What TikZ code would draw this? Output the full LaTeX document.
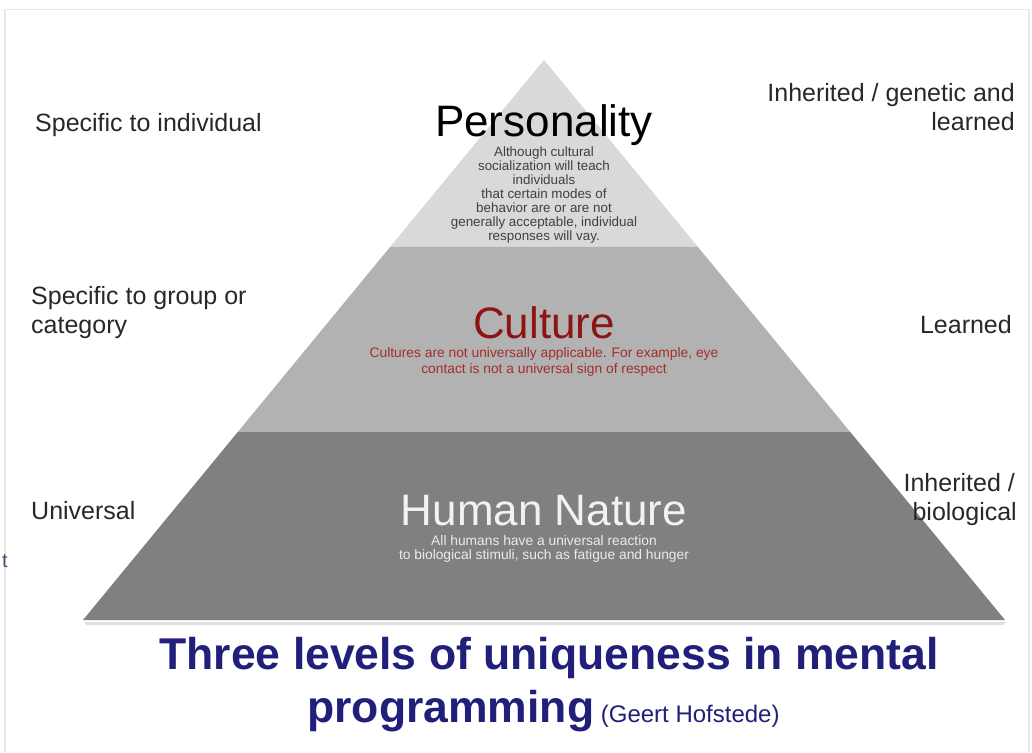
\documentclass[tikz,border=0pt]{standalone}
\usepackage{fontspec}
\setmainfont{Liberation Sans}
\usetikzlibrary{calc}
\definecolor{layerA}{RGB}{217,217,217}
\definecolor{layerB}{RGB}{178,178,178}
\definecolor{layerC}{RGB}{128,128,128}
\definecolor{titleblue}{RGB}{32,32,122}
\definecolor{culturered}{RGB}{140,20,20}
\definecolor{descred}{RGB}{165,45,45}
\definecolor{framegray}{RGB}{232,232,232}
\definecolor{sidegray}{RGB}{40,40,40}
\tikzset{
  side/.style={inner sep=0pt, text=sidegray, font=\fontsize{25}{29.5}\selectfont},
  big/.style={inner sep=0pt, anchor=base, font=\fontsize{44}{50}\selectfont},
  desc/.style={inner sep=0pt, anchor=north, align=center},
}
\begin{document}
\begin{tikzpicture}[x=1pt,y=-1pt]
\useasboundingbox (0,0) rectangle (1032,752);
\fill[white] (0,0) rectangle (1032,752);
\draw[framegray, line width=1.5pt] (5,752) -- (5,9.5) -- (1029,9.5) -- (1029,752);
% pyramid
\coordinate (apex) at (544,60);
\coordinate (bl) at (83,620);
\coordinate (br) at (1005,620);
\coordinate (l1) at ($(apex)!0.3339!(bl)$);
\coordinate (r1) at ($(apex)!0.3339!(br)$);
\coordinate (l2) at ($(apex)!0.6643!(bl)$);
\coordinate (r2) at ($(apex)!0.6643!(br)$);
\fill[black!12] ($(bl)+(1,2)$) -- ($(br)+(1,2)$) -- ($(br)+(-2,5)$) -- ($(bl)+(4,5)$) -- cycle;
\fill[layerA] (apex) -- (r1) -- (l1) -- cycle;
\fill[layerB] (l1) -- (r1) -- (r2) -- (l2) -- cycle;
\fill[layerC] (l2) -- (r2) -- (br) -- (bl) -- cycle;
% layer titles
\node[big] (pers) at (544,136) {Personality};
\node[big, text=culturered] (cult) at (544,338) {Culture};
\node[big, text=white!95!black] (hn) at (544,525) {Human Nature};
% descriptions
\node[desc, text=black!75, font=\fontsize{13.4}{14}\selectfont] (persd) at (544,146.5)
  {Although cultural\\socialization will teach\\individuals\\that certain modes of\\behavior are or are not\\generally acceptable, individual\\responses will vay.};
\node[desc, text=descred, font=\fontsize{13.8}{15.5}\selectfont] (cultd) at (544,347.5)
  {Cultures are not universally applicable. For example, eye\\contact is not a universal sign of respect};
\node[desc, text=white!92!black, font=\fontsize{13.8}{14.5}\selectfont] (hnd) at (544,535)
  {All humans have a universal reaction\\to biological stimuli, such as fatigue and hunger};
% side labels left
\node[side, anchor=base west] (l1t) at (35,131) {Specific to individual};
\node[side, anchor=base west] (l2t) at (31,304) {Specific to group or};
\node[side, anchor=base west] (l2b) at (31,333) {category};
\node[side, anchor=base west] (l3t) at (31,519) {Universal};
% side labels right
\node[side, anchor=base east] (r1t) at (1015,101) {Inherited / genetic and};
\node[side, anchor=base east] (r1b) at (1015,130) {learned};
\node[side, anchor=base east] (r2t) at (1012,333) {Learned};
\node[side, anchor=base east] (r3t) at (1015,491) {Inherited /};
\node[side, anchor=base east] (r3b) at (1017,520) {biological};
% stray glyph at left edge
\node[inner sep=0pt, anchor=base east, text=black!60!blue!40!gray, font=\fontsize{20}{20}\selectfont] (stray) at (8,567) {t};
% title
\node[inner sep=0pt, anchor=base, text=titleblue, font=\bfseries\fontsize{44.5}{50}\selectfont] (title1) at (549,669)
  {Three levels of uniqueness in mental};
\node[inner sep=0pt, anchor=base, text=titleblue] (title2) at (543.5,722)
  {{\bfseries\fontsize{44.5}{50}\selectfont programming}\fontsize{24}{28}\selectfont\ (Geert Hofstede)};
\end{tikzpicture}
\end{document}
